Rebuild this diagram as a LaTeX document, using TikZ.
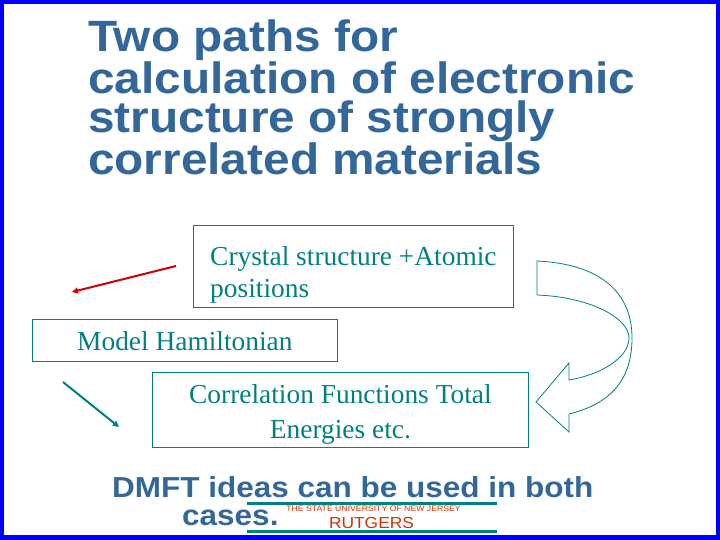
\documentclass[tikz,border=0pt]{standalone}
\usepackage{fontspec}
\usepackage{tikz}
\usetikzlibrary{arrows.meta, positioning}
\setmainfont{Liberation Serif}
\newfontfamily\slidefont[FakeStretch=1.09]{Liberation Sans}
\definecolor{slideblue}{RGB}{0,0,255}
\definecolor{titleblue}{RGB}{51,102,153}
\definecolor{boxteal}{RGB}{0,128,128}
\definecolor{arrowred}{RGB}{204,0,0}
\definecolor{rutgersred}{RGB}{204,51,0}
\tikzset{
  box/.style      = {draw=boxteal, line width=0.8bp, text=boxteal, inner sep=0pt,
                     font=\fontsize{27.5}{32}\selectfont},
  headline/.style = {text=titleblue, inner sep=0pt, align=left,
                     font=\slidefont\bfseries\fontsize{44}{39.3}\selectfont},
  footline/.style = {text=titleblue, inner sep=0pt, align=left,
                     font=\slidefont\bfseries\fontsize{29}{28}\selectfont},
  redarr/.style   = {-{Triangle[length=6bp,width=6bp]}, line width=2bp, color=arrowred},
  tealarr/.style  = {-{Triangle[length=6bp,width=6bp]}, line width=2bp, color=boxteal},
  bigarrow/.style = {draw=boxteal, line width=0.8bp, line join=miter},
  logoline/.style = {draw=boxteal, line width=3bp},
}
\begin{document}
\begin{tikzpicture}[x=1bp, y=-1bp]
  \useasboundingbox (0,0) rectangle (720,540);
  \fill[slideblue] (0,0) rectangle (720,540);
  \fill[white] (4,4) rectangle (716,535);

  \node[headline, anchor=base west] (title) at (88,175)
    {Two paths for\\calculation of electronic\\structure of strongly\\correlated materials};

  \node[box, anchor=north west, minimum width=320bp, align=left,
        text height=72bp, text depth=10bp] (crystal) at (193,225)
    {Crystal structure +Atomic\\positions};
  \node[box, anchor=north west, minimum width=305bp, align=center,
        text height=31bp, text depth=11bp] (model) at (32,319)
    {Model Hamiltonian};
  \node[box, anchor=north west, minimum width=376bp, align=center,
        text height=66bp, text depth=9bp, font=\fontsize{27.5}{35}\selectfont] (corr) at (152,372)
    {Correlation Functions Total\\Energies etc.};

  % the two paths
  \coordinate (redstart) at (176,266);
  \coordinate (redend)   at (72,292);
  \draw[redarr] (redstart) -- (redend);
  \coordinate (tealstart) at (63,382);
  \coordinate (tealend)   at (119,427);
  \draw[tealarr] (tealstart) -- (tealend);

  % curved block arrow
  \draw[bigarrow] (537,261) .. controls (600,264) and (632,292) .. (632,338)
    .. controls (632,385) and (605,405) .. (569,414) -- (569,432) -- (536,402)
    -- (569,363) -- (569,380) .. controls (600,375) and (629,358) .. (629,338)
    .. controls (629,318) and (590,297) .. (537,295) -- cycle;

  \node[footline, anchor=base west] (dmft) at (112,525)
    {DMFT ideas can be used in both\\\hspace*{70bp}cases.};

  % logo
  \draw[logoline] (247,503) -- (497,503);
  \draw[logoline] (247,531) -- (497,531);
  \node[text=rutgersred, inner sep=0pt, anchor=base,
        font=\slidefont\fontsize{8}{8}\selectfont] (state) at (373.5,511)
    {THE STATE UNIVERSITY OF NEW JERSEY};
  \node[text=rutgersred, inner sep=0pt, anchor=base,
        font=\slidefont\fontsize{16}{16}\selectfont] (rutgers) at (371.5,528)
    {RUTGERS};
\end{tikzpicture}
\end{document}
